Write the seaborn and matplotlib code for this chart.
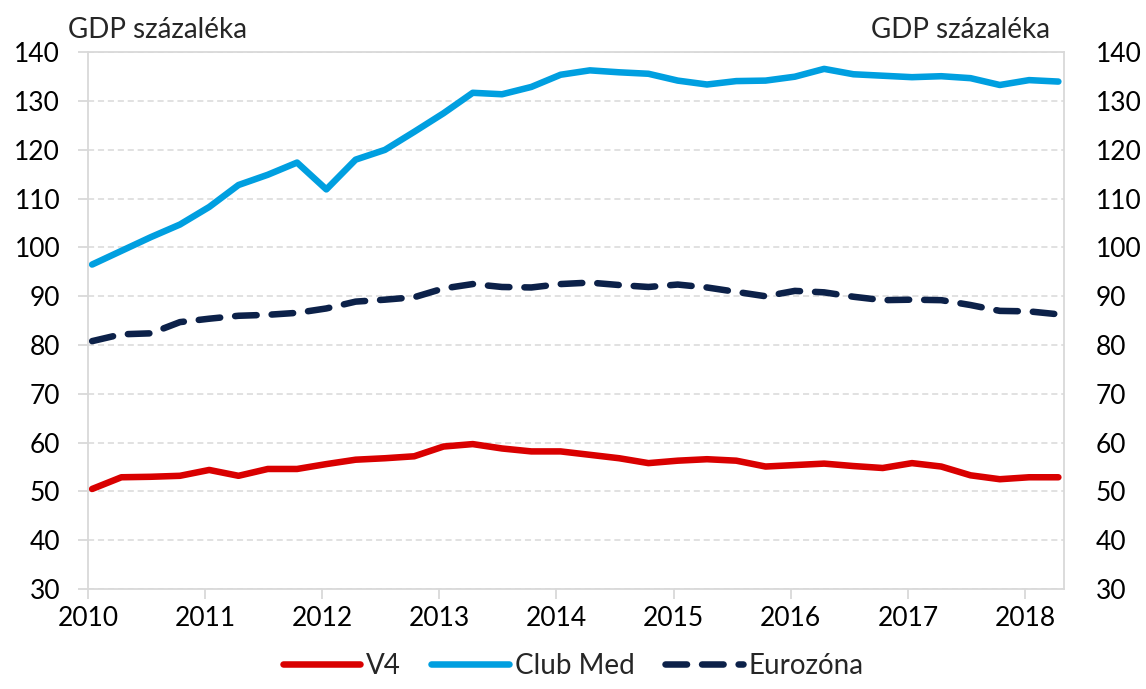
import seaborn as sns
import matplotlib.pyplot as plt
import numpy as np
import pandas as pd

# quarterly data, 2010 Q1 - 2018 Q2
quarters = np.arange(34)
v4 = [50.5, 52.9, 53.0, 53.2, 54.4, 53.2, 54.6, 54.6, 55.6, 56.5, 56.8, 57.2,
      59.2, 59.7, 58.8, 58.2, 58.2, 57.5, 56.8, 55.8, 56.3, 56.6, 56.3, 55.1,
      55.4, 55.7, 55.2, 54.8, 55.8, 55.1, 53.3, 52.5, 52.9, 52.9]
club_med = [96.5, 99.3, 102.1, 104.7, 108.3, 112.8, 114.9, 117.4, 111.9, 118.0, 120.0, 123.7,
            127.5, 131.7, 131.4, 132.9, 135.4, 136.3, 135.9, 135.6, 134.2, 133.4, 134.1, 134.2,
            135.0, 136.6, 135.5, 135.2, 134.9, 135.1, 134.7, 133.3, 134.3, 134.0]
eurozone = [80.8, 82.2, 82.4, 84.7, 85.4, 86.0, 86.2, 86.6, 87.5, 88.9, 89.3, 89.8,
            91.6, 92.5, 91.9, 91.8, 92.5, 92.8, 92.3, 91.9, 92.4, 91.8, 90.9, 90.0,
            91.1, 90.8, 89.9, 89.2, 89.3, 89.2, 88.2, 87.0, 86.9, 86.3]
years = list(range(2010, 2019))
labels = ['V4', 'Club Med', 'Eurozóna']

df = pd.DataFrame({'t': 2010.035 + quarters * 0.25,
                   'V4': v4, 'Club Med': club_med, 'Eurozóna': eurozone})

sns.set_theme(style='white')
plt.rcParams['font.family'] = ['Lato', 'DejaVu Sans']

fig = plt.figure(figsize=(11.46, 6.89), dpi=100)
ax = fig.add_axes([88 / 1146, 1 - 589 / 689, (1064 - 88) / 1146, (589 - 52.3) / 689])

red = '#d90000'
blue = '#009fe0'
navy = '#0c2149'
lw = 4.7

sns.lineplot(data=df, x='t', y='V4', ax=ax, color=red, linewidth=lw,
             solid_capstyle='round', label='V4')
sns.lineplot(data=df, x='t', y='Club Med', ax=ax, color=blue, linewidth=lw,
             solid_capstyle='round', label='Club Med')
sns.lineplot(data=df, x='t', y='Eurozóna', ax=ax, color=navy, linewidth=lw,
             dash_capstyle='round', label='Eurozóna')
ax.lines[-1].set_linestyle((0, (3.3, 2.3)))

ax.set_xlim(2010, 2018.333)
ax.set_ylim(30, 140)
ax.set_yticks(range(30, 141, 10))
ax.set_xticks(years)
ax.set_xticklabels([str(y) for y in years])
ax.set_xlabel('')
ax.set_ylabel('')

ax.grid(axis='y', color='#d9d9d9', linestyle=(0, (4, 2.5)), linewidth=1.1)
ax.grid(axis='x', visible=False)
for side in ['left', 'bottom', 'right', 'top']:
    ax.spines[side].set_color('#d9d9d9')
    ax.spines[side].set_linewidth(1.3)

ax.tick_params(axis='y', left=True, length=7, width=1.3, color='#d9d9d9',
               labelsize=19, pad=13, labelcolor='black')
ax.tick_params(axis='x', bottom=True, length=7, width=1.3, color='#d9d9d9',
               labelsize=19, pad=5, labelcolor='black')

ax2 = ax.twinx()
ax2.set_ylim(30, 140)
ax2.set_yticks(range(30, 141, 10))
ax2.tick_params(axis='y', right=True, length=0, labelsize=19, pad=23, labelcolor='black')
ax2.grid(False)
for side in ['left', 'bottom', 'right', 'top']:
    ax2.spines[side].set_visible(False)

fig.text(68 / 1146, 1 - 38 / 689, 'GDP százaléka', fontsize=20, ha='left', va='baseline')
fig.text(1050 / 1146, 1 - 38 / 689, 'GDP százaléka', fontsize=20, ha='right', va='baseline')

ax.legend_.remove()
handles = ax.get_lines()[:3]
fig.legend(handles, labels, loc='lower center', bbox_to_anchor=(0.5, -0.022), ncol=3,
           frameon=False, fontsize=20, handlelength=2.8, handletextpad=0.2,
           columnspacing=1.1)

fig.savefig('out.png', dpi=100)
